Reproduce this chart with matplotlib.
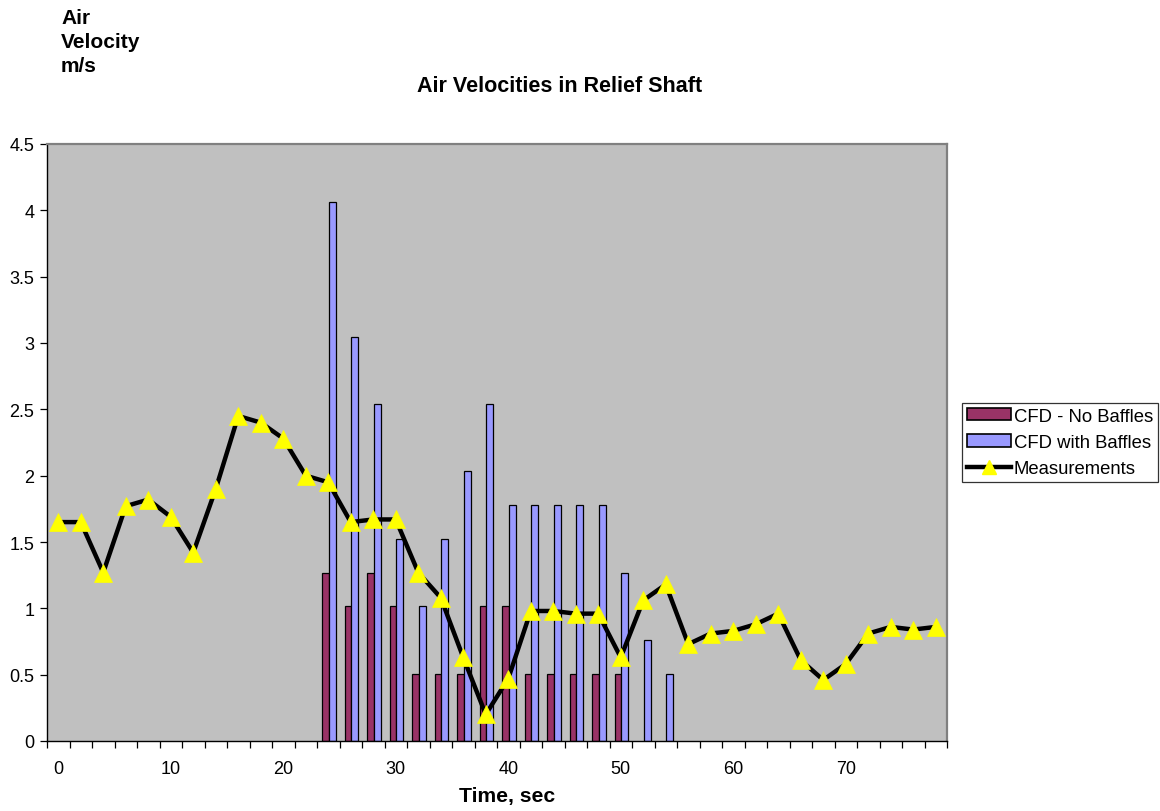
import numpy as np
import matplotlib
matplotlib.use("Agg")
import matplotlib.pyplot as plt
from matplotlib.ticker import FixedLocator, FuncFormatter
from matplotlib.lines import Line2D
from matplotlib.patches import Patch

plt.rcParams['font.family'] = ['Liberation Sans', 'DejaVu Sans']

# --- data ---
times = list(range(0, 80, 2))
measurements = [1.65, 1.65, 1.27, 1.77, 1.82, 1.69, 1.42, 1.90, 2.45, 2.40,
                2.28, 2.00, 1.95, 1.65, 1.67, 1.67, 1.27, 1.08, 0.63, 0.20,
                0.47, 0.98, 0.98, 0.96, 0.96, 0.63, 1.06, 1.18, 0.73, 0.81,
                0.83, 0.88, 0.96, 0.61, 0.46, 0.58, 0.81, 0.86, 0.84, 0.86]

bar_times = list(range(24, 56, 2))
cfd_no_baffles = [1.27, 1.016, 1.27, 1.016, 0.508, 0.508, 0.508, 1.016,
                  1.016, 0.508, 0.508, 0.508, 0.508, 0.508, np.nan, np.nan]
cfd_with_baffles = [4.064, 3.048, 2.54, 1.524, 1.016, 1.524, 2.032, 2.54,
                    1.778, 1.778, 1.778, 1.778, 1.778, 1.27, 0.762, 0.508]

y_ticks = [0, 0.5, 1, 1.5, 2, 2.5, 3, 3.5, 4, 4.5]
x_label_times = [0, 10, 20, 30, 40, 50, 60, 70]

MAROON = '#993366'
PERIWINKLE = '#9999FF'
PLOT_BG = '#C0C0C0'

fig = plt.figure(figsize=(11.6, 8.12), dpi=100)
ax = fig.add_axes([47 / 1160, 1 - 742 / 812, 900 / 1160, 597 / 812])
ax.set_facecolor(PLOT_BG)

pos = np.arange(len(times))
bar_pos = np.array([times.index(t) for t in bar_times])
w = 0.3
ax.bar(bar_pos - w / 2 + 0.03, cfd_no_baffles, w, color=MAROON,
       edgecolor='black', linewidth=0.9, zorder=2)
ax.bar(bar_pos + w / 2 + 0.03, cfd_with_baffles, w, color=PERIWINKLE,
       edgecolor='black', linewidth=0.9, zorder=2)
ax.plot(pos, measurements, color='black', linewidth=3.2, marker='^',
        markersize=13, markerfacecolor='yellow', markeredgecolor='yellow',
        markeredgewidth=0.5, zorder=3)

ax.set_xlim(-0.5, len(times) - 0.5)
ax.set_ylim(0, 4.5)

# category axis: ticks between categories, labels every 10 sec
ax.xaxis.set_major_locator(FixedLocator([times.index(t) for t in x_label_times]))
ax.set_xticklabels([str(t) for t in x_label_times])
ax.xaxis.set_minor_locator(FixedLocator(np.arange(-0.5, len(times), 1.0)))
ax.tick_params(axis='x', which='major', length=0, pad=14, labelsize=13)
ax.tick_params(axis='x', which='minor', length=5, width=0.9, direction='out')

ax.set_yticks(y_ticks)
ax.yaxis.set_major_formatter(FuncFormatter(lambda v, p: '{:g}'.format(v)))
ax.tick_params(axis='y', length=5, width=0.9, direction='out', pad=4, labelsize=13)

for side in ['left', 'bottom']:
    ax.spines[side].set_color('black')
    ax.spines[side].set_linewidth(1.0)
for side in ['top', 'right']:
    ax.spines[side].set_color('#808080')
    ax.spines[side].set_linewidth(1.6)

fig.text(560 / 1160, 1 - 86 / 812, 'Air Velocities in Relief Shaft',
         ha='center', va='center', fontsize=15.5, fontweight='bold')
fig.text(61 / 1160, 1 - 9 / 812, 'Air\nVelocity\nm/s', ha='left', va='top',
         fontsize=15, fontweight='bold', linespacing=1.32)
fig.text(507 / 1160, 1 - 797 / 812, 'Time, sec', ha='center', va='center',
         fontsize=15.2, fontweight='bold')

handles = [
    Patch(facecolor=MAROON, edgecolor='black', linewidth=1.2),
    Patch(facecolor=PERIWINKLE, edgecolor='black', linewidth=1.2),
    Line2D([], [], color='black', linewidth=3.2, marker='^', markersize=10,
           markerfacecolor='yellow', markeredgecolor='yellow'),
]
leg = fig.legend(handles, ['CFD - No Baffles', 'CFD with Baffles', 'Measurements'],
                 loc='upper left', bbox_to_anchor=(962 / 1160, 1 - 404 / 812),
                 fontsize=13.3, frameon=True, fancybox=False, borderpad=0.25,
                 handlelength=2.4, handleheight=0.65, handletextpad=0.15,
                 labelspacing=0.5, borderaxespad=0)
leg.get_frame().set_edgecolor('black')
leg.get_frame().set_linewidth(0.9)

fig.savefig('out.png', dpi=100, facecolor='white')
